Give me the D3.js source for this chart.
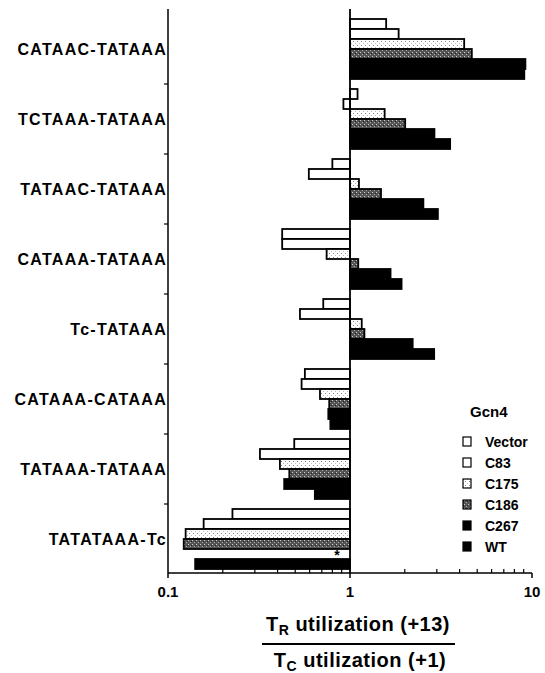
<!DOCTYPE html>
<html>
<head>
<meta charset="utf-8">
<script src="https://cdn.jsdelivr.net/npm/d3@7"></script>
<style>
	body { margin: 0; background: #fff; }
	text { font-family: 'Liberation Sans', Arial, sans-serif; font-weight: bold; }
</style>
</head>
<body>
<script>

const categories = ['CATAAC-TATAAA', 'TCTAAA-TATAAA', 'TATAAC-TATAAA', 'CATAAA-TATAAA',
	'Tc-TATAAA', 'CATAAA-CATAAA', 'TATAAA-TATAAA', 'TATATAAA-Tc'];
const series = ['Vector', 'C83', 'C175', 'C186', 'C267', 'WT'];

const vectorValues = [1.58, 1.10, 0.80, 0.424, 0.713, 0.565, 0.494, 0.226];
const c83Values = [1.85, 0.92, 0.594, 0.424, 0.531, 0.542, 0.32, 0.157];
const c175Values = [4.24, 1.55, 1.12, 0.744, 1.16, 0.684, 0.412, 0.125];
const c186Values = [4.67, 2.01, 1.48, 1.11, 1.20, 0.769, 0.464, 0.122];
const c267Values = [9.2, 2.91, 2.53, 1.67, 2.21, 0.76, 0.435, null];
const wtValues = [9.07, 3.55, 3.04, 1.92, 2.90, 0.78, 0.641, 0.141];

const xTicks = [0.1, 1, 10];

const allValues = [vectorValues, c83Values, c175Values, c186Values, c267Values, wtValues];

const width = 545;
const height = 673;

const fills = {
	'Vector': '#fff',
	'C83': '#fff',
	'C175': 'url(#dots)',
	'C186': 'url(#grain)',
	'C267': '#000',
	'WT': '#000'
};

const svg = d3.select('body')
	.append('svg')
	.attr('width', width)
	.attr('height', height);

// patterns for the stippled bars
const defs = svg.append('defs');
const dots = defs.append('pattern')
	.attr('id', 'dots')
	.attr('width', 4)
	.attr('height', 4)
	.attr('patternUnits', 'userSpaceOnUse');
dots.append('rect').attr('width', 4).attr('height', 4).attr('fill', '#fff');
dots.append('rect').attr('x', 1).attr('y', 1).attr('width', 1).attr('height', 1).attr('fill', '#888');
dots.append('rect').attr('x', 3).attr('y', 3).attr('width', 1).attr('height', 1).attr('fill', '#bbb');

const grain = defs.append('pattern')
	.attr('id', 'grain')
	.attr('width', 4)
	.attr('height', 4)
	.attr('patternUnits', 'userSpaceOnUse');
grain.append('rect').attr('width', 4).attr('height', 4).attr('fill', '#555');
grain.append('rect').attr('x', 0).attr('y', 0).attr('width', 1).attr('height', 1).attr('fill', '#ccc');
grain.append('rect').attr('x', 2).attr('y', 2).attr('width', 1).attr('height', 1).attr('fill', '#aaa');
grain.append('rect').attr('x', 3).attr('y', 1).attr('width', 1).attr('height', 1).attr('fill', '#222');

const xScale = d3.scaleLog()
	.domain([0.1, 10])
	.range([168, 532]);

const yScale = d3.scaleBand()
	.domain(categories)
	.range([14, 574])
	.paddingInner(1 / 7)
	.paddingOuter(0.5 / 7);

const sScale = d3.scaleBand()
	.domain(series)
	.range([0, yScale.bandwidth()]);

const axisTop = 9;
const axisBottom = 573;

// bars
const rows = [];
categories.forEach((c, i) => {
	series.forEach((s, j) => {
		rows.push({ cat: c, s: s, v: allValues[j][i] });
	});
});

svg.selectAll('rect.bar')
	.data(rows.filter(d => d.v !== null))
	.enter()
	.append('rect')
	.attr('class', 'bar')
	.attr('x', d => Math.min(xScale(1), xScale(d.v)))
	.attr('y', d => yScale(d.cat) + sScale(d.s))
	.attr('width', d => Math.abs(xScale(d.v) - xScale(1)))
	.attr('height', sScale.bandwidth())
	.attr('fill', d => fills[d.s])
	.attr('stroke', '#000')
	.attr('stroke-width', 1.8);

// asterisk for the missing C267 value
svg.append('text')
	.attr('x', xScale(1) - 13)
	.attr('y', yScale('TATATAAA-Tc') + sScale('C267') + 11)
	.attr('text-anchor', 'middle')
	.attr('font-size', 14)
	.text('*');

// axes
const axis = svg.append('g')
	.attr('stroke', '#000')
	.attr('fill', 'none');

axis.append('line')
	.attr('x1', xScale(0.1)).attr('x2', xScale(0.1))
	.attr('y1', axisTop).attr('y2', axisBottom)
	.attr('stroke-width', 1.5);

axis.append('line')
	.attr('x1', xScale(1)).attr('x2', xScale(1))
	.attr('y1', axisTop).attr('y2', axisBottom)
	.attr('stroke-width', 1.8);

axis.append('line')
	.attr('x1', xScale(0.1)).attr('x2', xScale(10))
	.attr('y1', axisBottom).attr('y2', axisBottom)
	.attr('stroke-width', 1.5);

// group separators on the left axis
axis.selectAll('line.sep')
	.data(categories.slice(1))
	.enter()
	.append('line')
	.attr('class', 'sep')
	.attr('x1', xScale(0.1) - 4).attr('x2', xScale(0.1))
	.attr('y1', d => yScale(d) - 5).attr('y2', d => yScale(d) - 5)
	.attr('stroke-width', 1.2);

const minor = xScale.ticks().filter(t => xTicks.indexOf(t) < 0);
axis.selectAll('line.minor')
	.data(minor)
	.enter()
	.append('line')
	.attr('class', 'minor')
	.attr('x1', d => xScale(d)).attr('x2', d => xScale(d))
	.attr('y1', axisBottom - 4).attr('y2', axisBottom)
	.attr('stroke-width', 1.2);

axis.selectAll('line.major')
	.data(xTicks)
	.enter()
	.append('line')
	.attr('class', 'major')
	.attr('x1', d => xScale(d)).attr('x2', d => xScale(d))
	.attr('y1', axisBottom).attr('y2', axisBottom + 5)
	.attr('stroke-width', 1.5);

svg.selectAll('text.tick')
	.data(xTicks)
	.enter()
	.append('text')
	.attr('class', 'tick')
	.attr('x', d => xScale(d))
	.attr('y', 597)
	.attr('text-anchor', 'middle')
	.attr('font-size', 15)
	.text(d => d);

// category labels
svg.selectAll('text.cat')
	.data(categories)
	.enter()
	.append('text')
	.attr('class', 'cat')
	.attr('x', 167)
	.attr('y', d => yScale(d) + yScale.bandwidth() / 2 + 6)
	.attr('text-anchor', 'end')
	.attr('font-size', 16)
	.attr('letter-spacing', 1.3)
	.text(d => d);

// legend
const legend = svg.append('g');
legend.append('text')
	.attr('x', 470)
	.attr('y', 417)
	.attr('font-size', 15)
	.text('Gcn4');

const ly = d3.scalePoint()
	.domain(series)
	.range([442, 547]);

legend.selectAll('rect')
	.data(series)
	.enter()
	.append('rect')
	.attr('x', 463)
	.attr('y', d => ly(d) - 5)
	.attr('width', 8)
	.attr('height', 9)
	.attr('fill', d => fills[d])
	.attr('stroke', '#000')
	.attr('stroke-width', 1.2);

legend.selectAll('text.item')
	.data(series)
	.enter()
	.append('text')
	.attr('class', 'item')
	.attr('x', 485)
	.attr('y', d => ly(d) + 5)
	.attr('font-size', 14)
	.text(d => d);

// axis title as a fraction
const t1 = svg.append('text')
	.attr('x', 358)
	.attr('y', 631)
	.attr('text-anchor', 'middle')
	.attr('font-size', 20)
	.attr('letter-spacing', 0.5);
t1.append('tspan').text('T');
t1.append('tspan').attr('font-size', 14).attr('dy', 4).text('R');
t1.append('tspan').attr('dy', -4).text(' utilization (+13)');

svg.append('line')
	.attr('x1', 262).attr('x2', 455)
	.attr('y1', 644).attr('y2', 644)
	.attr('stroke', '#000')
	.attr('stroke-width', 2);

const t2 = svg.append('text')
	.attr('x', 360)
	.attr('y', 667)
	.attr('text-anchor', 'middle')
	.attr('font-size', 20)
	.attr('letter-spacing', 0.5);
t2.append('tspan').text('T');
t2.append('tspan').attr('font-size', 14).attr('dy', 4).text('C');
t2.append('tspan').attr('dy', -4).text(' utilization (+1)');

</script>
</body>
</html>
